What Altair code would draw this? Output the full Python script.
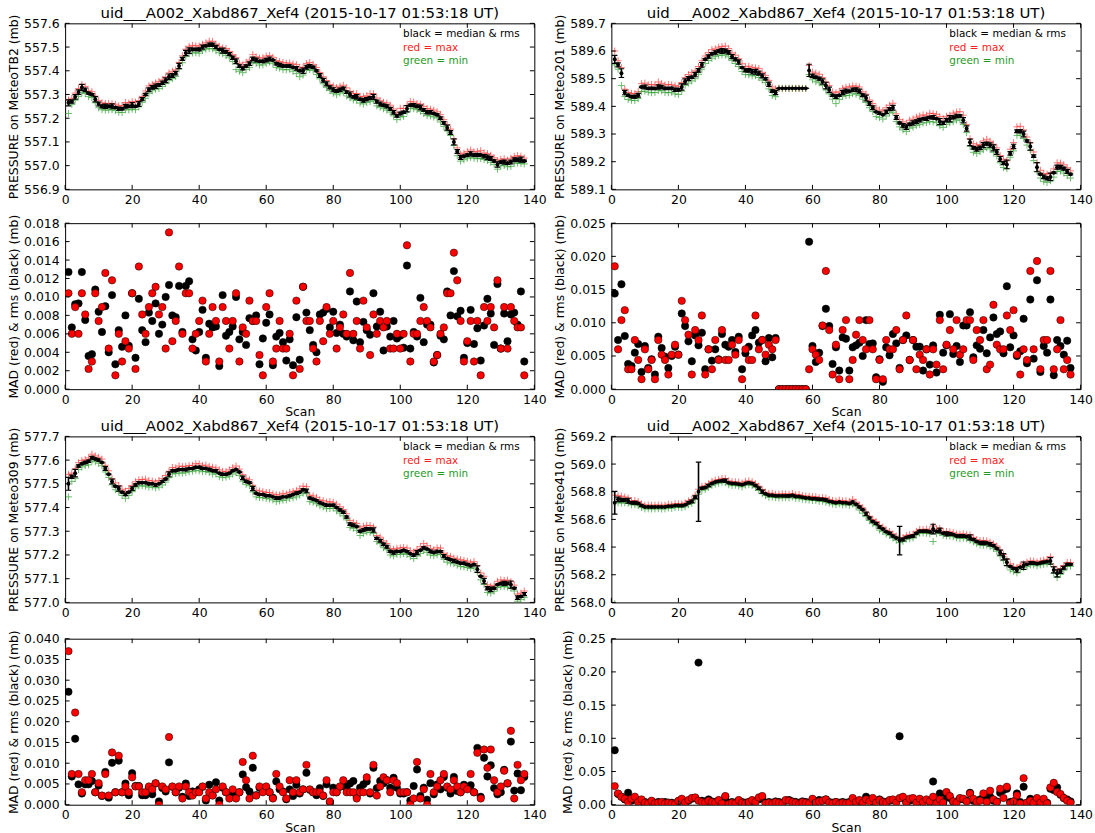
import altair as alt
import pandas as pd

FONT = "DejaVu Sans"
TITLE = "uid___A002_Xabd867_Xef4 (2015-10-17 01:53:18 UT)"
SCANS = list(range(1, 138))
X_TICKS = [0, 20, 40, 60, 80, 100, 120, 140]

# ---------------- MeteoTB2 ----------------
TB2_MEDIAN = [
    557.265, 557.27, 557.29, 557.31, 557.33, 557.32, 557.305, 557.30, 557.28, 557.26,
    557.25, 557.25, 557.25, 557.25, 557.245, 557.24, 557.24, 557.25, 557.25, 557.255,
    557.25, 557.26, 557.28, 557.30, 557.32, 557.33, 557.335, 557.34, 557.35, 557.36,
    557.375, 557.38, 557.39, 557.42, 557.45, 557.475, 557.485, 557.49, 557.49, 557.49,
    557.50, 557.505, 557.51, 557.51, 557.50, 557.49, 557.485, 557.48, 557.47, 557.455,
    557.44, 557.42, 557.41, 557.42, 557.43, 557.45, 557.445, 557.44, 557.44, 557.445,
    557.45, 557.445, 557.43, 557.425, 557.42, 557.42, 557.42, 557.415, 557.41, 557.40,
    557.40, 557.415, 557.42, 557.415, 557.40, 557.38, 557.36, 557.345, 557.33, 557.32,
    557.315, 557.32, 557.325, 557.31, 557.30, 557.29, 557.29, 557.28, 557.275, 557.28,
    557.285, 557.29, 557.27, 557.26, 557.255, 557.25, 557.24, 557.225, 557.21, 557.22,
    557.225, 557.24, 557.255, 557.255, 557.25, 557.245, 557.235, 557.225, 557.225, 557.22,
    557.215, 557.20, 557.18, 557.16, 557.14, 557.10, 557.06, 557.035, 557.04, 557.045,
    557.05, 557.045, 557.045, 557.045, 557.04, 557.035, 557.03, 557.02, 557.005, 557.015,
    557.015, 557.01, 557.015, 557.025, 557.025, 557.025, 557.02,
]
# max above / min below the median, in units of 0.001 mb
TB2_MAX_UP = [
    12, 14, 16, 15, 12, 14, 10, 12, 13, 14, 15, 12, 13, 11, 14, 12, 13, 16, 14, 15,
    18, 14, 12, 15, 16, 13, 14, 15, 12, 14, 16, 18, 14, 15, 13, 16, 18, 17, 15, 14,
    12, 13, 15, 14, 12, 13, 11, 14, 12, 13, 15, 12, 14, 16, 15, 18, 14, 13, 15, 17,
    14, 12, 13, 14, 15, 12, 13, 14, 16, 15, 14, 16, 15, 12, 14, 13, 15, 14, 12, 16,
    14, 15, 14, 18, 13, 15, 14, 12, 16, 15, 18, 13, 15, 14, 12, 14, 15, 14, 13, 22,
    16, 14, 15, 13, 12, 14, 15, 16, 13, 14, 12, 15, 14, 13, 14, 12, 15, 14, 13, 14,
    16, 13, 15, 18, 14, 16, 14, 13, 15, 12, 14, 13, 16, 14, 17, 15, 12,
]
TB2_MIN_DOWN = [
    45, 12, 14, 18, 22, 16, 14, 13, 15, 16, 14, 16, 15, 14, 13, 15, 16, 14, 15, 17,
    14, 12, 13, 16, 15, 14, 13, 15, 16, 14, 15, 13, 14, 12, 16, 14, 13, 15, 14, 16,
    15, 14, 16, 18, 15, 14, 13, 16, 15, 16, 35, 22, 18, 14, 16, 15, 14, 16, 15, 14,
    13, 15, 16, 14, 15, 16, 14, 17, 22, 25, 18, 14, 15, 13, 16, 14, 15, 16, 13, 15,
    16, 14, 15, 16, 14, 13, 15, 16, 15, 14, 15, 16, 18, 14, 15, 16, 14, 15, 16, 15,
    18, 14, 13, 15, 14, 16, 15, 14, 16, 15, 14, 16, 15, 14, 13, 15, 18, 16, 15, 14,
    15, 14, 16, 15, 14, 13, 16, 15, 20, 16, 14, 15, 18, 15, 14, 16, 13,
]
TB2_RMS = [
    .0127, .0067, .0092, .0093, .0127, .0075, .0036, .0038, .0108, .0084,
    .0062, .0090, .0040, .0102, .0027, .0064, .0046, .0080, .0047, .0104,
    .0034, .0098, .0064, .0051, .0083, .0074, .0093, .0060, .0070, .0100,
    .0113, .0080, .0078, .0112, .0062, .0112, .0117, .0054, .0042, .0062,
    .0086, .0034, .0071, .0067, .0068, .0025, .0102, .0058, .0062, .0068,
    .0100, .0054, .0062, .0048, .0077, .0074, .0080, .0027, .0055, .0072,
    .0081, .0026, .0057, .0061, .0051, .0031, .0054, .0026, .0078, .0032,
    .0111, .0083, .0064, .0048, .0040, .0081, .0083, .0087, .0067, .0084,
    .0061, .0070, .0060, .0057, .0106, .0053, .0095, .0051, .0073, .0064,
    .0059, .0104, .0068, .0084, .0042, .0068, .0057, .0074, .0055, .0058,
    .0045, .0134, .0044, .0062, .0057, .0099, .0051, .0070, .0070, .0029,
    .0037, .0058, .0054, .0106, .0080, .0128, .0079, .0085, .0034, .0050,
    .0086, .0049, .0066, .0031, .0069, .0098, .0082, .0048, .0114, .0044,
    .0082, .0052, .0081, .0083, .0070, .0106, .0030,
]
TB2_MAD = [
    .0104, .0060, .0089, .0060, .0104, .0081, .0022, .0030, .0104, .0074,
    .0089, .0126, .0044, .0118, .0015, .0060, .0030, .0052, .0044, .0104,
    .0022, .0133, .0081, .0060, .0089, .0104, .0111, .0081, .0089, .0044,
    .0170, .0052, .0074, .0133, .0060, .0104, .0104, .0044, .0060, .0074,
    .0096, .0030, .0060, .0089, .0074, .0030, .0089, .0074, .0044, .0074,
    .0104, .0030, .0067, .0060, .0096, .0074, .0074, .0037, .0015, .0089,
    .0104, .0030, .0044, .0074, .0044, .0044, .0060, .0015, .0096, .0022,
    .0111, .0074, .0074, .0044, .0030, .0074, .0052, .0089, .0060, .0074,
    .0044, .0067, .0081, .0060, .0126, .0060, .0074, .0044, .0096, .0067,
    .0037, .0081, .0060, .0074, .0067, .0074, .0044, .0044, .0060, .0044,
    .0060, .0156, .0030, .0060, .0060, .0074, .0089, .0074, .0067, .0030,
    .0037, .0060, .0067, .0104, .0104, .0148, .0118, .0074, .0030, .0052,
    .0074, .0030, .0074, .0015, .0089, .0074, .0089, .0067, .0118, .0044,
    .0089, .0044, .0089, .0074, .0067, .0067, .0015,
]

# ---------------- Meteo201 ----------------
M201_MEDIAN = [
    589.57, 589.55, 589.52, 589.45, 589.44, 589.435, 589.435, 589.44, 589.47, 589.47,
    589.465, 589.465, 589.465, 589.47, 589.47, 589.465, 589.465, 589.465, 589.46, 589.46,
    589.47, 589.49, 589.50, 589.505, 589.515, 589.53, 589.55, 589.57, 589.58, 589.59,
    589.595, 589.60, 589.60, 589.60, 589.595, 589.58, 589.57, 589.56, 589.54, 589.53,
    589.53, 589.525, 589.525, 589.52, 589.51, 589.50, 589.48, 589.455, 589.45, 589.465,
    589.465, 589.465, 589.465, 589.465, 589.465, 589.465, 589.465, 589.465, 589.53, 589.51,
    589.505, 589.50, 589.49, 589.475, 589.46, 589.44, 589.435, 589.44, 589.45, 589.455,
    589.455, 589.46, 589.46, 589.455, 589.44, 589.43, 589.41, 589.395, 589.38, 589.375,
    589.37, 589.38, 589.39, 589.395, 589.36, 589.34, 589.33, 589.325, 589.335, 589.34,
    589.345, 589.35, 589.355, 589.355, 589.36, 589.36, 589.355, 589.345, 589.34, 589.35,
    589.355, 589.36, 589.365, 589.365, 589.35, 589.32, 589.27, 589.25, 589.245, 589.25,
    589.26, 589.265, 589.26, 589.25, 589.235, 589.21, 589.195, 589.19, 589.23, 589.255,
    589.31, 589.31, 589.30, 589.275, 589.255, 589.22, 589.18, 589.155, 589.145, 589.14,
    589.145, 589.16, 589.18, 589.18, 589.175, 589.165, 589.155,
]
M201_MAX_UP = [
    30, 15, 20, 12, 10, 12, 11, 13, 12, 14, 13, 14, 12, 18, 13, 12, 14, 13, 15, 12,
    16, 14, 15, 17, 13, 14, 15, 12, 14, 15, 13, 14, 16, 18, 14, 13, 15, 12, 14, 13,
    15, 16, 14, 17, 13, 12, 14, 15, 13, 0, 0, 0, 0, 0, 0, 0, 0, 0, 18, 14,
    15, 16, 14, 13, 15, 12, 14, 13, 15, 14, 16, 14, 13, 15, 12, 14, 13, 15, 14, 12,
    13, 15, 14, 16, 13, 12, 14, 13, 15, 14, 16, 15, 14, 13, 15, 14, 16, 18, 15, 14,
    13, 15, 14, 16, 18, 14, 13, 15, 14, 12, 15, 16, 14, 13, 15, 12, 14, 13, 15, 14,
    16, 18, 15, 14, 13, 15, 16, 14, 12, 15, 13, 14, 16, 15, 14, 13, 12,
]
M201_MIN_DOWN = [
    20, 16, 45, 14, 15, 13, 14, 12, 16, 15, 14, 16, 15, 13, 14, 15, 16, 14, 15, 17,
    15, 14, 16, 13, 15, 14, 16, 15, 14, 16, 15, 16, 14, 15, 16, 14, 15, 16, 14, 15,
    16, 15, 14, 16, 15, 14, 17, 16, 15, 0, 0, 0, 0, 0, 0, 0, 0, 0, 15, 14,
    16, 15, 14, 16, 15, 14, 25, 15, 14, 16, 15, 14, 16, 15, 14, 16, 15, 14, 17, 15,
    16, 15, 14, 16, 15, 14, 15, 16, 14, 15, 14, 16, 15, 14, 15, 16, 14, 15, 16, 15,
    14, 16, 15, 14, 16, 15, 14, 16, 15, 14, 16, 15, 14, 16, 15, 14, 16, 15, 14, 16,
    15, 14, 16, 15, 14, 16, 15, 14, 16, 15, 14, 16, 15, 14, 16, 15, 14,
]
M201_RMS = [
    .0144, .0074, .0158, .0080, .0038, .0035, .0055, .0068, .0026, .0065,
    .0032, .0045, .0022, .0079, .0062, .0049, .0032, .0050, .0064, .0052,
    .0114, .0095, .0072, .0042, .0081, .0066, .0085, .0030, .0060, .0043,
    .0060, .0045, .0083, .0067, .0064, .0074, .0056, .0079, .0030, .0054,
    .0064, .0081, .0089, .0070, .0074, .0042, .0077, .0048, .0077, 0.0,
    0.0, 0.0, 0.0, 0.0, 0.0, 0.0, 0.0, 0.0, .0222, .0065,
    .0041, .0055, .0095, .0121, .0095, .0038, .0063, .0028, .0078, .0076,
    .0028, .0063, .0066, .0070, .0050, .0104, .0068, .0069, .0018, .0045,
    .0011, .0063, .0051, .0083, .0069, .0032, .0074, .0081, .0044, .0074,
    .0064, .0064, .0028, .0060, .0037, .0066, .0025, .0112, .0055, .0066,
    .0113, .0053, .0065, .0041, .0096, .0096, .0116, .0048, .0066, .0061,
    .0089, .0054, .0078, .0108, .0083, .0087, .0054, .0155, .0063, .0081,
    .0050, .0057, .0106, .0039, .0135, .0046, .0164, .0026, .0065, .0055,
    .0135, .0021, .0074, .0065, .0052, .0073, .0032,
]
M201_MAD = [
    .0185, .0060, .0104, .0119, .0030, .0030, .0074, .0044, .0015, .0060,
    .0030, .0044, .0015, .0074, .0052, .0044, .0022, .0052, .0067, .0052,
    .0133, .0104, .0082, .0022, .0089, .0074, .0111, .0022, .0060, .0030,
    .0074, .0044, .0089, .0044, .0044, .0067, .0052, .0074, .0015, .0060,
    .0044, .0044, .0111, .0060, .0074, .0052, .0067, .0060, .0074, 0.0,
    0.0, 0.0, 0.0, 0.0, 0.0, 0.0, 0.0, 0.0, .0030, .0060,
    .0052, .0044, .0096, .0178, .0089, .0022, .0067, .0015, .0089, .0104,
    .0015, .0044, .0082, .0104, .0074, .0060, .0104, .0060, .0015, .0044,
    .0015, .0074, .0060, .0060, .0089, .0030, .0074, .0111, .0044, .0074,
    .0030, .0052, .0044, .0060, .0022, .0060, .0037, .0104, .0030, .0067,
    .0089, .0060, .0104, .0052, .0060, .0104, .0104, .0044, .0089, .0074,
    .0104, .0030, .0037, .0127, .0067, .0060, .0060, .0111, .0089, .0119,
    .0052, .0022, .0060, .0044, .0178, .0060, .0193, .0030, .0074, .0074,
    .0178, .0030, .0060, .0104, .0030, .0044, .0022,
]

# ---------------- Meteo309 ----------------
M309_MEDIAN = [
    577.50, 577.53, 577.545, 577.575, 577.585, 577.59, 577.595, 577.61, 577.605, 577.60,
    577.59, 577.565, 577.54, 577.51, 577.49, 577.48, 577.465, 577.455, 577.465, 577.48,
    577.495, 577.505, 577.505, 577.505, 577.50, 577.50, 577.495, 577.50, 577.51, 577.52,
    577.54, 577.555, 577.555, 577.56, 577.56, 577.56, 577.565, 577.565, 577.57, 577.57,
    577.565, 577.565, 577.56, 577.555, 577.555, 577.545, 577.54, 577.54, 577.545, 577.555,
    577.56, 577.55, 577.525, 577.51, 577.505, 577.48, 577.46, 577.455, 577.455, 577.45,
    577.45, 577.445, 577.44, 577.44, 577.445, 577.445, 577.45, 577.455, 577.46, 577.465,
    577.475, 577.47, 577.44, 577.435, 577.43, 577.42, 577.415, 577.41, 577.41, 577.41,
    577.40, 577.39, 577.38, 577.36, 577.33, 577.325, 577.32, 577.30, 577.305, 577.31,
    577.31, 577.305, 577.27, 577.26, 577.245, 577.235, 577.215, 577.21, 577.215, 577.215,
    577.22, 577.215, 577.205, 577.20, 577.21, 577.22, 577.23, 577.225, 577.215, 577.21,
    577.215, 577.215, 577.195, 577.185, 577.18, 577.175, 577.17, 577.165, 577.165, 577.16,
    577.155, 577.16, 577.14, 577.11, 577.09, 577.06, 577.055, 577.06, 577.075, 577.08,
    577.08, 577.08, 577.075, 577.06, 577.02, 577.025, 577.035,
]
M309_MAX_UP = [
    40, 15, 18, 14, 13, 12, 14, 15, 13, 12, 14, 13, 15, 12, 14, 13, 12, 14, 15, 13,
    14, 12, 13, 15, 14, 12, 13, 14, 12, 15, 13, 14, 12, 15, 13, 14, 12, 13, 15, 14,
    12, 14, 13, 15, 12, 14, 13, 12, 14, 13, 15, 12, 14, 13, 12, 14, 13, 15, 12, 14,
    13, 12, 14, 13, 15, 12, 14, 13, 12, 14, 15, 18, 12, 14, 13, 12, 14, 13, 15, 12,
    14, 13, 12, 14, 15, 12, 13, 14, 16, 15, 14, 13, 12, 15, 14, 13, 12, 14, 13, 15,
    12, 14, 13, 12, 14, 15, 18, 14, 13, 12, 15, 14, 12, 13, 14, 12, 13, 15, 12, 14,
    13, 12, 15, 14, 20, 14, 13, 12, 14, 15, 13, 14, 12, 13, 15, 14, 13,
]
M309_MIN_DOWN = [
    55, 20, 22, 15, 14, 13, 15, 14, 12, 13, 14, 15, 13, 14, 15, 13, 14, 16, 14, 13,
    12, 14, 13, 15, 14, 13, 12, 14, 15, 13, 14, 13, 12, 14, 15, 13, 14, 12, 13, 15,
    14, 13, 12, 14, 13, 15, 14, 12, 13, 14, 13, 15, 14, 12, 13, 14, 15, 13, 14, 12,
    14, 13, 15, 12, 14, 13, 12, 14, 15, 13, 14, 12, 15, 13, 14, 12, 13, 15, 14, 12,
    14, 13, 15, 12, 14, 13, 16, 18, 14, 13, 15, 14, 13, 12, 14, 13, 15, 14, 12, 13,
    14, 13, 12, 15, 14, 13, 12, 14, 15, 13, 14, 12, 13, 15, 14, 12, 13, 14, 15, 13,
    12, 14, 13, 15, 14, 18, 16, 13, 12, 14, 13, 15, 14, 12, 15, 13, 14,
]
M309_RMS = [
    .0272, .0068, .0159, .0049, .0027, .0049, .0049, .0057, .0030, .0046,
    .0021, .0079, .0017, .0101, .0030, .0106, .0030, .0051, .0023, .0076,
    .0045, .0045, .0023, .0023, .0041, .0025, .0051, .0008, .0040, .0032,
    .0102, .0043, .0030, .0041, .0019, .0051, .0021, .0032, .0030, .0037,
    .0043, .0010, .0048, .0023, .0054, .0010, .0041, .0030, .0025, .0030,
    .0025, .0030, .0073, .0042, .0032, .0089, .0023, .0041, .0037, .0040,
    .0030, .0017, .0056, .0037, .0032, .0013, .0037, .0021, .0048, .0027,
    .0037, .0077, .0036, .0030, .0023, .0040, .0021, .0049, .0006, .0041,
    .0030, .0043, .0045, .0043, .0051, .0057, .0019, .0041, .0049, .0056,
    .0027, .0089, .0040, .0057, .0052, .0059, .0041, .0065, .0041, .0027,
    .0027, .0030, .0010, .0045, .0085, .0021, .0041, .0012, .0052, .0025,
    .0049, .0037, .0067, .0041, .0027, .0067, .0033, .0030, .0048, .0040,
    .0047, .0030, .0137, .0019, .0113, .0068, .0095, .0040, .0025, .0030,
    .0084, .0051, .0152, .0034, .0075, .0035, .0067,
]
M309_MAD = [
    .0370, .0074, .0222, .0074, .0030, .0059, .0059, .0074, .0030, .0052,
    .0022, .0074, .0022, .0126, .0030, .0118, .0030, .0044, .0030, .0066,
    .0044, .0044, .0030, .0030, .0044, .0037, .0052, .0000, .0044, .0037,
    .0163, .0044, .0030, .0044, .0015, .0044, .0030, .0022, .0030, .0030,
    .0044, .0015, .0030, .0022, .0037, .0000, .0044, .0030, .0015, .0037,
    .0015, .0030, .0103, .0059, .0015, .0118, .0022, .0044, .0030, .0044,
    .0030, .0015, .0074, .0044, .0030, .0015, .0059, .0030, .0059, .0030,
    .0037, .0096, .0037, .0030, .0030, .0030, .0022, .0059, .0008, .0030,
    .0030, .0044, .0059, .0030, .0030, .0030, .0015, .0030, .0030, .0066,
    .0030, .0096, .0022, .0044, .0066, .0059, .0030, .0059, .0052, .0030,
    .0030, .0030, .0000, .0015, .0103, .0015, .0037, .0000, .0074, .0030,
    .0044, .0059, .0074, .0044, .0037, .0059, .0044, .0030, .0044, .0037,
    .0074, .0030, .0125, .0015, .0133, .0089, .0133, .0059, .0030, .0044,
    .0082, .0052, .0178, .0015, .0096, .0059, .0074,
]

# ---------------- Meteo410 ----------------
M410_MEDIAN = [
    568.72, 568.745, 568.74, 568.74, 568.735, 568.72, 568.72, 568.715, 568.70, 568.69,
    568.69, 568.69, 568.69, 568.69, 568.69, 568.69, 568.695, 568.695, 568.70, 568.70,
    568.70, 568.705, 568.72, 568.73, 568.76, 568.80, 568.825, 568.83, 568.845, 568.86,
    568.87, 568.875, 568.88, 568.88, 568.865, 568.86, 568.86, 568.855, 568.85, 568.86,
    568.865, 568.86, 568.845, 568.825, 568.80, 568.785, 568.775, 568.775, 568.77, 568.77,
    568.77, 568.77, 568.77, 568.775, 568.765, 568.765, 568.76, 568.755, 568.755, 568.75,
    568.75, 568.745, 568.745, 568.74, 568.73, 568.725, 568.72, 568.725, 568.72, 568.72,
    568.715, 568.725, 568.71, 568.69, 568.67, 568.64, 568.61, 568.585, 568.57, 568.545,
    568.53, 568.51, 568.50, 568.48, 568.465, 568.447, 568.455, 568.47, 568.475, 568.48,
    568.50, 568.515, 568.515, 568.515, 568.51, 568.53, 568.515, 568.52, 568.50, 568.495,
    568.495, 568.49, 568.48, 568.48, 568.48, 568.475, 568.47, 568.455, 568.44, 568.43,
    568.43, 568.43, 568.42, 568.41, 568.39, 568.36, 568.33, 568.29, 568.26, 568.245,
    568.235, 568.255, 568.265, 568.275, 568.285, 568.285, 568.28, 568.285, 568.29, 568.295,
    568.30, 568.235, 568.21, 568.225, 568.25, 568.275, 568.275,
]
M410_MAX_UP = [
    55, 25, 28, 22, 20, 15, 16, 14, 12, 13, 14, 12, 13, 14, 12, 13, 15, 12, 14, 13,
    12, 14, 15, 13, 16, 18, 14, 13, 12, 15, 14, 13, 16, 15, 14, 13, 12, 14, 13, 15,
    14, 12, 13, 15, 14, 12, 13, 14, 12, 13, 15, 14, 12, 13, 14, 15, 12, 14, 13, 15,
    14, 12, 13, 15, 14, 12, 13, 14, 15, 13, 14, 20, 15, 13, 14, 12, 13, 14, 15, 13,
    14, 12, 13, 15, 14, 16, 14, 13, 15, 12, 14, 13, 12, 15, 14, 22, 16, 15, 14, 18,
    16, 14, 15, 13, 16, 14, 18, 15, 14, 16, 18, 15, 16, 14, 17, 18, 16, 20, 18, 15,
    16, 15, 14, 16, 15, 14, 13, 15, 14, 16, 30, 25, 22, 18, 16, 14, 13,
]
M410_MIN_DOWN = [
    730, 25, 22, 20, 18, 15, 14, 16, 15, 14, 13, 15, 14, 13, 15, 14, 13, 15, 14, 13,
    15, 14, 13, 15, 16, 18, 14, 15, 13, 14, 15, 14, 13, 15, 14, 16, 13, 14, 15, 13,
    14, 15, 13, 16, 14, 13, 15, 14, 13, 15, 14, 13, 15, 14, 13, 15, 14, 13, 15, 14,
    13, 15, 14, 16, 13, 15, 14, 13, 15, 14, 13, 15, 14, 22, 25, 20, 18, 16, 15, 22,
    18, 16, 15, 14, 16, 15, 14, 13, 15, 14, 13, 15, 14, 16, 15, 90, 18, 16, 15, 14,
    16, 15, 14, 18, 16, 15, 20, 17, 16, 15, 18, 16, 17, 18, 20, 25, 28, 22, 25, 20,
    22, 18, 15, 16, 14, 15, 16, 14, 15, 16, 20, 25, 30, 22, 18, 15, 14,
]
M410_RMS = [
    .082, .016, .012, .008, .018, .006, .010, .005, .006, .004,
    .003, .005, .003, .004, .003, .004, .003, .003, .002, .005,
    .007, .004, .006, .009, .010, .214, .006, .005, .008, .005,
    .004, .006, .004, .012, .003, .004, .003, .006, .004, .003,
    .004, .006, .005, .008, .011, .003, .004, .003, .005, .004,
    .003, .006, .007, .005, .004, .003, .005, .004, .003, .006,
    .005, .007, .006, .008, .004, .003, .004, .003, .004, .003,
    .004, .008, .005, .006, .004, .012, .007, .005, .006, .008,
    .005, .004, .006, .007, .005, .103, .010, .004, .006, .008,
    .004, .006, .005, .007, .005, .035, .004, .017, .005, .015,
    .010, .004, .005, .009, .008, .006, .018, .006, .005, .008,
    .012, .005, .012, .006, .005, .018, .022, .024, .004, .005,
    .017, .004, .027, .003, .009, .006, .005, .004, .006, .003,
    .024, .022, .026, .015, .010, .008, .005,
]
M410_MAD = [
    .028, .017, .012, .009, .004, .009, .012, .004, .008, .003,
    .002, .006, .002, .003, .004, .002, .003, .002, .001, .006,
    .009, .003, .007, .010, .011, .006, .004, .003, .006, .004,
    .003, .007, .002, .013, .001, .003, .002, .007, .003, .002,
    .004, .007, .004, .011, .013, .002, .003, .002, .004, .003,
    .002, .007, .006, .004, .003, .001, .004, .003, .002, .009,
    .003, .005, .006, .008, .003, .002, .004, .001, .003, .002,
    .003, .010, .004, .007, .003, .008, .005, .010, .003, .007,
    .004, .003, .007, .008, .003, .010, .012, .003, .009, .010,
    .003, .009, .004, .008, .005, .012, .002, .008, .003, .019,
    .013, .005, .003, .010, .009, .005, .017, .009, .004, .006,
    .017, .004, .021, .008, .004, .024, .010, .027, .002, .005,
    .014, .002, .040, .003, .006, .003, .010, .003, .009, .002,
    .026, .033, .019, .016, .010, .006, .003,
]

LEGEND = [("black = median & rms", "black"), ("red = max", "#ff2020"), ("green = min", "#1f9a1f")]

W, H = 472, 167
TICK_LEN = 4.5
PLUS = "M-1,0L1,0M0,-1L0,1"
CAP = "M-1,0L1,0"
XS = alt.Scale(domain=[0, 140], nice=False, zero=False)


def inward_ticks(y_values, y_scale, x_axis, y_axis):
    """Matplotlib-style ticks drawn inside the frame on all four sides."""
    xt = alt.Chart(pd.DataFrame({"t": X_TICKS}))
    yt = alt.Chart(pd.DataFrame({"t": y_values}))
    rule = dict(color="black", strokeWidth=1)
    xenc = alt.X("t:Q", scale=XS, axis=x_axis)
    yenc = alt.Y("t:Q", scale=y_scale, axis=y_axis)
    return [
        xt.mark_rule(**rule).encode(x=xenc, y=alt.value(H - TICK_LEN), y2=alt.value(H)),
        xt.mark_rule(**rule).encode(x=xenc, y=alt.value(0), y2=alt.value(TICK_LEN)),
        yt.mark_rule(**rule).encode(y=yenc, x=alt.value(0), x2=alt.value(TICK_LEN)),
        yt.mark_rule(**rule).encode(y=yenc, x=alt.value(W - TICK_LEN), x2=alt.value(W)),
    ]


def legend_text():
    one = alt.Chart(pd.DataFrame({"k": [0]}))
    out = []
    for i, (txt, col) in enumerate(LEGEND):
        out.append(
            one.mark_text(align="left", baseline="middle", font=FONT, fontSize=10.5, color=col)
            .encode(x=alt.value(340), y=alt.value(11 + 13.5 * i), text=alt.value(txt))
        )
    return out


def pressure_panel(station, med, up, down, rms, y_dom, y_ticks):
    df = pd.DataFrame({"scan": SCANS, "median": med, "rms": rms})
    df["pmax"] = [m + u / 1000 for m, u in zip(med, up)]
    df["pmin"] = [m - d / 1000 for m, d in zip(med, down)]
    df["lo"] = df["median"] - df["rms"]
    df["hi"] = df["median"] + df["rms"]
    ys = alt.Scale(domain=y_dom, nice=False, zero=False)
    x_ax = alt.Axis(values=X_TICKS, title=None)
    y_ax = alt.Axis(values=y_ticks, format=".1f", title=f"PRESSURE on {station} (mb)")
    base = alt.Chart(df)
    xs = alt.X("scan:Q", scale=XS, axis=x_ax)

    def yq(f):
        return alt.Y(f"{f}:Q", scale=ys, axis=y_ax)

    plus = dict(shape=PLUS, filled=False, size=49, strokeWidth=1, clip=True)
    cap = dict(shape=CAP, filled=False, size=30, strokeWidth=1.2, color="black", opacity=1, clip=True)
    layers = [
        base.mark_point(color="#ff0000", opacity=0.55, **plus).encode(x=xs, y=yq("pmax")),
        base.mark_point(color="#0a8f0a", opacity=0.6, **plus).encode(x=xs, y=yq("pmin")),
        base.mark_rule(color="black", strokeWidth=1.6, clip=True).encode(x=xs, y=yq("lo"), y2="hi:Q"),
        base.mark_point(**cap).encode(x=xs, y=yq("lo")),
        base.mark_point(**cap).encode(x=xs, y=yq("hi")),
        base.mark_circle(size=16, color="black", opacity=1, clip=True).encode(x=xs, y=yq("median")),
    ] + inward_ticks(y_ticks, ys, x_ax, y_ax) + legend_text()
    return alt.layer(*layers).properties(width=W, height=H, title=TITLE)


def mad_panel(rms, mad, y_dom, y_ticks, fmt):
    df = pd.DataFrame({"scan": SCANS, "rms": rms, "mad": mad})
    ys = alt.Scale(domain=y_dom, nice=False, zero=False)
    x_ax = alt.Axis(values=X_TICKS, title="Scan")
    y_ax = alt.Axis(values=y_ticks, format=fmt, title="MAD (red) & rms (black) (mb)")
    base = alt.Chart(df)
    xs = alt.X("scan:Q", scale=XS, axis=x_ax)
    dot = dict(filled=True, shape="circle", size=56, stroke="black", strokeWidth=0.5,
               opacity=1, clip=True)
    layers = [
        base.mark_point(color="black", **dot).encode(x=xs, y=alt.Y("rms:Q", scale=ys, axis=y_ax)),
        base.mark_point(color="#ff0000", **dot).encode(x=xs, y=alt.Y("mad:Q", scale=ys, axis=y_ax)),
    ] + inward_ticks(y_ticks, ys, x_ax, y_ax)
    return alt.layer(*layers).properties(width=W, height=H)


p_tl = pressure_panel("MeteoTB2", TB2_MEDIAN, TB2_MAX_UP, TB2_MIN_DOWN, TB2_RMS,
                      [556.9, 557.6], [556.9, 557.0, 557.1, 557.2, 557.3, 557.4, 557.5, 557.6])
p_tr = pressure_panel("Meteo201", M201_MEDIAN, M201_MAX_UP, M201_MIN_DOWN, M201_RMS,
                      [589.1, 589.7], [589.1, 589.2, 589.3, 589.4, 589.5, 589.6, 589.7])
p_bl = pressure_panel("Meteo309", M309_MEDIAN, M309_MAX_UP, M309_MIN_DOWN, M309_RMS,
                      [577.0, 577.7], [577.0, 577.1, 577.2, 577.3, 577.4, 577.5, 577.6, 577.7])
p_br = pressure_panel("Meteo410", M410_MEDIAN, M410_MAX_UP, M410_MIN_DOWN, M410_RMS,
                      [568.0, 569.2], [568.0, 568.2, 568.4, 568.6, 568.8, 569.0, 569.2])

m_tl = mad_panel(TB2_RMS, TB2_MAD, [0, 0.018],
                 [0, 0.002, 0.004, 0.006, 0.008, 0.010, 0.012, 0.014, 0.016, 0.018], ".3f")
m_tr = mad_panel(M201_RMS, M201_MAD, [0, 0.025], [0, 0.005, 0.010, 0.015, 0.020, 0.025], ".3f")
m_bl = mad_panel(M309_RMS, M309_MAD, [0, 0.040],
                 [0, 0.005, 0.010, 0.015, 0.020, 0.025, 0.030, 0.035, 0.040], ".3f")
m_br = mad_panel(M410_RMS, M410_MAD, [0, 0.25], [0, 0.05, 0.10, 0.15, 0.20, 0.25], ".2f")


def column(p_top, m_top, p_bot, m_bot):
    upper = alt.vconcat(p_top, m_top, spacing=7)
    lower = alt.vconcat(p_bot, m_bot, spacing=9.5)
    return alt.vconcat(upper, lower, spacing=-0.5)


chart = (
    alt.hconcat(column(p_tl, m_tl, p_bl, m_bl), column(p_tr, m_tr, p_br, m_br), spacing=5.5)
    .properties(padding={"left": 6.5, "top": 3, "right": 2, "bottom": 0}, background="white")
    .configure_view(stroke="black", strokeWidth=1)
    .configure_axis(labelFont=FONT, labelFontSize=12.5, labelColor="black",
                    titleFont=FONT, titleFontSize=12.5, titleFontWeight="normal",
                    titleColor="black", ticks=False, domain=False, grid=False,
                    labelFlush=False, labelPadding=6, titlePadding=3)
    .configure_axisX(labelPadding=4, titlePadding=0)
    .configure_title(font=FONT, fontSize=15, fontWeight="normal", color="black",
                     anchor="middle", offset=-7)
)

chart.save("out.html", embed_options={"renderer": "svg", "actions": False})
